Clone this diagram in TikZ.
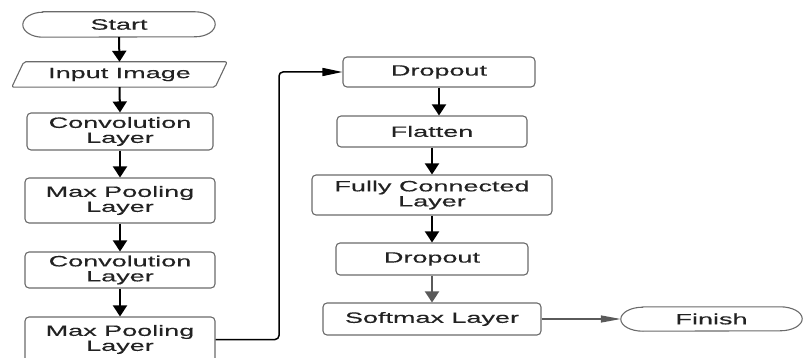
\documentclass[tikz,border=0pt]{standalone}
\usepackage{fontspec}
\setmainfont{Liberation Sans}[FakeStretch=1.8, FakeBold=0.4]
\usetikzlibrary{arrows.meta,calc}
\definecolor{boxgray}{HTML}{6A6A6A}
\definecolor{txt}{HTML}{222222}
\definecolor{arrgray}{HTML}{5A5A5A}
\begin{document}
\begin{tikzpicture}[x=1pt,y=-1pt,
  lab/.style={font=\fontsize{15}{15}\selectfont, text=txt, align=center, inner sep=0pt},
  box/.style={lab, draw=boxgray, line width=1.1pt, rounded corners=4pt},
  plain/.style={lab},
  varr/.style={line width=2pt, -{Triangle[length=11pt,width=14pt]}},
  garr/.style={line width=2pt, draw=arrgray, -{Triangle[length=11pt,width=14pt]}},
  harr/.style={line width=1.5pt, -{Triangle[length=20pt,width=8pt]}},
  hgarr/.style={line width=1.3pt, draw=arrgray, -{Triangle[length=20pt,width=7pt]}},
  stad/.style={draw=boxgray, line width=1.1pt}
]
\useasboundingbox (0,0) rectangle (803,358);

% left column
\node[plain, minimum width=192pt, minimum height=25pt] (start) at (119,24.5) {Start};
\draw[stad] ([xshift=20pt]start.north west) -- ([xshift=-20pt]start.north east)
  arc[start angle=90, end angle=-90, x radius=20pt, y radius=12.5pt]
  -- ([xshift=20pt]start.south west)
  arc[start angle=270, end angle=90, x radius=20pt, y radius=12.5pt] -- cycle;

\node[plain, minimum width=203pt, minimum height=25pt] (inp) at (119.5,74.5) {Input Image};
\draw[stad, rounded corners=2pt] ([xshift=6pt]inp.north west) -- ([xshift=6pt]inp.north east)
  -- ([xshift=-6pt]inp.south east) -- ([xshift=-6pt]inp.south west) -- cycle;

\node[box, minimum width=186pt, minimum height=37pt] (c1) at (120,131.5) {Convolution\\Layer};
\node[box, minimum width=190pt, minimum height=45pt] (m1) at (120,200.5) {Max Pooling\\Layer};
\node[box, minimum width=190pt, minimum height=36pt] (c2) at (120,270) {Convolution\\Layer};
\node[box, minimum width=190pt, minimum height=45pt] (m2) at (120,339.5) {Max Pooling\\Layer};

% right column
\node[box, minimum width=192pt, minimum height=30pt] (d1) at (439,72) {Dropout};
\node[box, minimum width=190pt, minimum height=31pt] (fl) at (432,131.5) {Flatten};
\node[box, minimum width=240pt, minimum height=40pt] (fc) at (432,195) {Fully Connected\\Layer};
\node[box, minimum width=192pt, minimum height=32pt] (d2) at (432,259) {Dropout};
\node[box, minimum width=218pt, minimum height=32pt] (sm) at (432,319) {Softmax Layer};

\node[plain, minimum width=181pt, minimum height=24pt] (fin) at (711.5,319) {Finish};
\draw[stad] ([xshift=22pt]fin.north west) -- ([xshift=-22pt]fin.north east)
  arc[start angle=90, end angle=-90, x radius=22pt, y radius=12pt]
  -- ([xshift=22pt]fin.south west)
  arc[start angle=270, end angle=90, x radius=22pt, y radius=12pt] -- cycle;

% connectors
\draw[varr] (start.south) -- (inp.north);
\draw[varr] (inp.south) -- (c1.north);
\draw[varr] (c1.south) -- (m1.north);
\draw[varr] (m1.south) -- (c2.north);
\draw[varr] (c2.south) -- (m2.north);

\coordinate (bend) at (279,0);
\draw[harr, rounded corners=4pt] (m2.east) -| (bend |- d1.west) -- (d1.west);

\draw[varr] (d1.south) -- (d1.south |- fl.north);
\draw[varr] (fl.south) -- (fl.south |- fc.north);
\draw[varr] (fc.south) -- (fc.south |- d2.north);
\draw[garr] (d2.south) -- (d2.south |- sm.north);
\draw[hgarr] (sm.east) -- (fin.west);
\end{tikzpicture}
\end{document}
